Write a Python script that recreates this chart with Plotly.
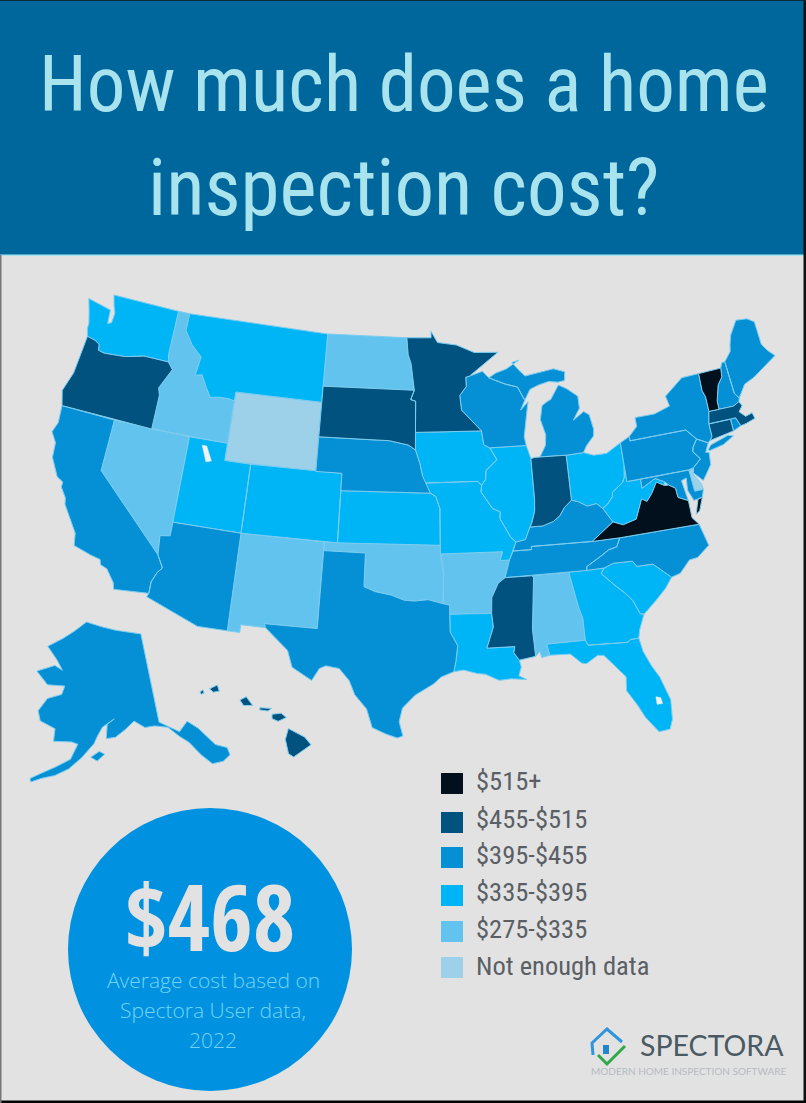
import math
import plotly.graph_objects as go

W, H = 806, 1103

# price tiers, cheapest first
tier_labels = ["Not enough data", "$275-$335", "$335-$395", "$395-$455", "$455-$515", "$515+"]
tier_colors = ["#9dd1ea", "#62c3ee", "#00b5f6", "#0590d5", "#02527f", "#02101e"]

states = ["AK", "AL", "AR", "AZ", "CA", "CO", "CT", "DE", "FL", "GA", "HI", "IA", "ID", "IL", "IN", "KS", "KY",
          "LA", "MA", "MD", "ME", "MI", "MN", "MO", "MS", "MT", "NC", "ND", "NE", "NH", "NJ", "NM", "NV", "NY",
          "OH", "OK", "OR", "PA", "RI", "SC", "SD", "TN", "TX", "UT", "VA", "VT", "WA", "WI", "WV", "WY"]
state_tiers = [3, 1, 1, 3, 3, 2, 4, 0, 2, 2, 4, 2, 1, 2, 4, 2, 3,
               2, 4, 3, 3, 3, 4, 2, 4, 2, 3, 1, 3, 3, 3, 1, 1, 3,
               2, 1, 4, 3, 3, 2, 4, 3, 3, 2, 5, 5, 2, 3, 2, 0]

# the plotly basemap comes from a cdn, so the state outlines (lon, lat) live here
outlines = {
    "WA": [[(-124.73,48.38),(-123.1,48.15),(-122.7,48.1),(-122.6,47.3),(-122.3,47.4),(-122.25,48.0),(-122.5,48.4),(-122.76,49),(-117.03,49),(-117.04,46.42),(-116.92,45.99),(-118.98,46),(-119.3,45.93),(-120.5,45.7),(-121.2,45.65),(-122.2,45.58),(-122.7,45.65),(-122.8,46),(-123.2,46.15),(-123.9,46.25),(-124.1,46.7),(-124.1,47),(-124.4,47.7)]],
    "OR": [[(-123.9,46.25),(-123.2,46.15),(-122.8,46),(-122.7,45.65),(-122.2,45.58),(-121.2,45.65),(-120.5,45.7),(-119.3,45.93),(-118.98,46),(-116.92,45.99),(-116.46,45.6),(-116.85,45),(-117.22,44.4),(-117.03,44),(-117.03,42),(-124.21,42),(-124.55,42.84),(-124.1,44),(-123.95,45.5)]],
    "CA": [[(-124.21,42),(-120,42),(-120,39),(-114.63,35),(-114.14,34.3),(-114.43,34),(-114.72,33.4),(-114.72,32.72),(-117.12,32.53),(-117.25,32.9),(-117.9,33.6),(-118.4,33.75),(-118.5,34.03),(-119.2,34.15),(-120.5,34.45),(-120.65,35.15),(-121.9,36.6),(-122,36.96),(-122.5,37.5),(-122.5,37.8),(-123,38),(-123.75,39),(-123.85,39.85),(-124.35,40.4),(-124.1,41)]],
    "NV": [[(-120,42),(-114.04,42),(-114.04,36.2),(-114.75,36.1),(-114.63,35),(-120,39)]],
    "ID": [[(-117.03,42),(-111.05,42),(-111.05,44.48),(-111.5,44.55),(-112.3,44.55),(-113,44.45),(-113.45,44.95),(-114,45.65),(-114.55,45.55),(-114.35,46.65),(-115.3,47.25),(-116.05,48),(-116.05,49),(-117.03,49),(-117.04,46.42),(-116.92,45.99),(-116.46,45.6),(-116.85,45),(-117.22,44.4),(-117.03,44)]],
    "MT": [[(-116.05,49),(-104.05,49),(-104.05,45),(-111.05,45),(-111.05,44.48),(-111.5,44.55),(-112.3,44.55),(-113,44.45),(-113.45,44.95),(-114,45.65),(-114.55,45.55),(-114.35,46.65),(-115.3,47.25),(-116.05,48)]],
    "WY": [[(-111.05,45),(-104.05,45),(-104.05,41),(-111.05,41)]],
    "UT": [[(-114.04,42),(-111.05,42),(-111.05,41),(-109.05,41),(-109.05,37),(-114.04,37)]],
    "AZ": [[(-114.04,37),(-109.05,37),(-109.05,31.33),(-111.07,31.33),(-114.81,32.5),(-114.72,32.72),(-114.72,33.4),(-114.43,34),(-114.14,34.3),(-114.63,35),(-114.75,36.1),(-114.04,36.2)]],
    "CO": [[(-109.05,41),(-102.05,41),(-102.05,37),(-109.05,37)]],
    "NM": [[(-109.05,37),(-103,37),(-103.04,32),(-106.62,32),(-106.53,31.78),(-108.21,31.78),(-108.21,31.33),(-109.05,31.33)]],
    "ND": [[(-104.05,49),(-97.23,49),(-97.1,48),(-96.85,47.5),(-96.56,45.94),(-104.05,45.94)]],
    "SD": [[(-104.05,45.94),(-96.56,45.94),(-96.85,45.4),(-96.45,45.3),(-96.45,43.5),(-96.45,42.49),(-97,42.77),(-98.5,43),(-104.05,43)]],
    "NE": [[(-104.05,43),(-98.5,43),(-97,42.77),(-96.45,42.49),(-96.1,41.7),(-95.9,41),(-95.31,40),(-102.05,40),(-102.05,41),(-104.05,41)]],
    "KS": [[(-102.05,40),(-95.31,40),(-94.9,39.8),(-94.61,39.1),(-94.62,37),(-102.05,37)]],
    "OK": [[(-103,37),(-94.62,37),(-94.43,35.4),(-94.48,33.64),(-95.5,33.88),(-96.5,33.8),(-97.2,33.85),(-98.1,34.13),(-99.2,34.3),(-100,34.56),(-100,36.5),(-103,36.5)]],
    "TX": [[(-106.62,32),(-103.04,32),(-103,36.5),(-100,36.5),(-100,34.56),(-99.2,34.3),(-98.1,34.13),(-97.2,33.85),(-96.5,33.8),(-95.5,33.88),(-94.48,33.64),(-94.04,33.55),(-94.04,32),(-93.55,31.2),(-93.7,30.3),(-93.85,29.7),(-94.7,29.4),(-95.2,29),(-96.4,28.35),(-97.2,27.6),(-97.4,26.8),(-97.15,25.97),(-97.5,25.85),(-98.2,26.06),(-99.1,26.42),(-99.5,27.5),(-100.3,28.3),(-100.7,29.1),(-101.4,29.77),(-102.3,29.88),(-102.7,29.7),(-103.15,28.98),(-104.5,29.65),(-104.9,30.6),(-106.53,31.78)]],
    "MN": [[(-97.23,49),(-95.15,49),(-95.15,49.38),(-94.6,48.72),(-93,48.55),(-91.5,48.07),(-89.5,48),(-92,46.7),(-92.3,46.65),(-92.3,46.1),(-92.85,45.6),(-92.75,44.75),(-91.22,43.5),(-96.45,43.5),(-96.45,45.3),(-96.85,45.4),(-96.56,45.94),(-96.85,47.5),(-97.1,48)]],
    "IA": [[(-96.45,43.5),(-91.22,43.5),(-91.1,42.7),(-90.65,42.5),(-90.15,41.8),(-91.05,41.2),(-91.1,40.7),(-91.42,40.38),(-91.73,40.61),(-95.77,40.58),(-95.9,41),(-96.1,41.7),(-96.45,42.49)]],
    "MO": [[(-95.77,40.58),(-91.73,40.61),(-91.42,40.38),(-91.5,40),(-90.7,39),(-90.15,38.8),(-90.2,38.4),(-89.5,37.3),(-89.15,37),(-89.4,36.5),(-89.7,36),(-90.37,36),(-90.15,36.5),(-94.62,36.5),(-94.62,37),(-94.61,39.1),(-94.9,39.8),(-95.31,40)]],
    "AR": [[(-94.62,36.5),(-90.15,36.5),(-90.37,36),(-89.7,36),(-90.1,35),(-90.6,34.7),(-91.1,33.9),(-91.17,33),(-94.04,33.02),(-94.04,33.55),(-94.48,33.64),(-94.43,35.4)]],
    "LA": [[(-94.04,33.02),(-91.17,33),(-91.1,32.2),(-91.6,31),(-89.73,31),(-89.83,30.65),(-89.5,30.2),(-89.4,29.8),(-89.6,29.3),(-89.1,29.05),(-90.1,29.15),(-90.9,29.1),(-91.8,29.5),(-92.3,29.55),(-93.2,29.78),(-93.85,29.7),(-93.7,30.3),(-93.55,31.2),(-94.04,32)]],
    "WI": [[(-92,46.7),(-90.9,46.95),(-90.4,46.55),(-89.1,46.13),(-88.1,45.9),(-87.8,45.35),(-87.6,45.1),(-88,44.55),(-87.35,45),(-87.55,44.3),(-87.8,43.4),(-87.9,43),(-87.8,42.49),(-90.65,42.5),(-91.1,42.7),(-91.22,43.5),(-92.75,44.75),(-92.85,45.6),(-92.3,46.1),(-92.3,46.65)]],
    "IL": [[(-90.65,42.5),(-87.8,42.49),(-87.53,41.72),(-87.53,39.35),(-87.6,38.7),(-87.9,38),(-88.05,37.8),(-88.45,37.1),(-89.15,37),(-89.5,37.3),(-90.2,38.4),(-90.15,38.8),(-90.7,39),(-91.5,40),(-91.42,40.38),(-91.1,40.7),(-91.05,41.2),(-90.15,41.8)]],
    "IN": [[(-87.53,41.72),(-87.2,41.76),(-86.82,41.76),(-84.8,41.7),(-84.81,39.1),(-85.4,38.72),(-85.8,38.28),(-86.3,38),(-87.1,37.8),(-88.05,37.8),(-87.9,38),(-87.6,38.7),(-87.53,39.35)]],
    "MI": [[(-86.82,41.76),(-84.8,41.7),(-83.45,41.73),(-83.15,42.1),(-82.5,42.6),(-82.42,43),(-82.6,43.85),(-83,44.07),(-83.9,43.65),(-83.3,44.3),(-83.3,45),(-84.1,45.5),(-84.75,45.78),(-85.1,45.4),(-85.5,45),(-85.8,44.9),(-86.25,44.7),(-86.5,43.9),(-86.2,43),(-86.3,42.4)],
           [(-90.4,46.55),(-89.1,46.13),(-88.1,45.9),(-87.8,45.35),(-87.6,45.1),(-87.1,45.7),(-86.4,45.9),(-85.5,46.05),(-84.75,45.95),(-84.2,46),(-84.1,46.5),(-85,46.75),(-86,46.65),(-87.4,46.5),(-87.9,46.9),(-88.4,47.35),(-87.8,47.45),(-88.9,47),(-89.8,46.8)]],
    "OH": [[(-84.8,41.7),(-83.45,41.73),(-82.7,41.5),(-81.7,41.5),(-80.52,41.98),(-80.52,40.64),(-80.65,40),(-80.85,39.7),(-81.7,39.25),(-81.75,39),(-82.2,38.6),(-82.6,38.4),(-83,38.72),(-83.7,38.65),(-84.3,38.95),(-84.81,39.1)]],
    "KY": [[(-88.45,37.1),(-88.05,37.8),(-87.1,37.8),(-86.3,38),(-85.8,38.28),(-85.4,38.72),(-84.81,39.1),(-84.3,38.95),(-83.7,38.65),(-83,38.72),(-82.6,38.4),(-82,37.55),(-83.68,36.6),(-88.07,36.68),(-88.07,36.5),(-89.4,36.5),(-89.15,37)]],
    "TN": [[(-89.4,36.5),(-88.07,36.5),(-88.07,36.68),(-83.68,36.6),(-81.68,36.59),(-82,36.1),(-82.6,36),(-83.1,35.75),(-84.3,35.2),(-84.32,34.99),(-90.1,35),(-89.7,36)]],
    "MS": [[(-90.1,35),(-88.2,35),(-88.1,34.9),(-88.47,31.9),(-88.4,30.35),(-89.5,30.2),(-89.83,30.65),(-89.73,31),(-91.6,31),(-91.1,32.2),(-91.17,33),(-91.1,33.9),(-90.6,34.7)]],
    "AL": [[(-88.2,35),(-85.6,35),(-85.18,32.87),(-85,32.3),(-85,31),(-87.6,31),(-87.45,30.35),(-88,30.25),(-88.1,30.6),(-88.4,30.35),(-88.47,31.9),(-88.1,34.9)]],
    "GA": [[(-85.6,35),(-83.1,35),(-83.35,34.7),(-82.6,34),(-81.9,33.4),(-81.45,32.9),(-81.1,32.1),(-80.85,32.03),(-81.3,31.2),(-81.45,30.72),(-82.05,30.7),(-82.2,30.57),(-84.86,30.7),(-85,31),(-85,32.3),(-85.18,32.87)]],
    "FL": [[(-87.6,31),(-85,31),(-84.86,30.7),(-82.2,30.57),(-82.05,30.7),(-81.45,30.72),(-81.3,29.9),(-80.9,29),(-80.5,28.3),(-80.05,26.9),(-80.15,25.75),(-80.4,25.2),(-81.1,25.15),(-81.8,26.1),(-82.2,26.9),(-82.75,27.8),(-82.65,28.6),(-83.1,29.1),(-83.9,30),(-84.3,30.05),(-85.1,29.65),(-85.4,29.7),(-86.1,30.3),(-87.45,30.35)]],
    "SC": [[(-83.35,34.7),(-83.1,35),(-82.4,35.2),(-81.05,35.15),(-80.8,34.82),(-79.67,34.8),(-78.55,33.87),(-79.1,33.3),(-79.9,32.7),(-80.85,32.03),(-81.1,32.1),(-81.45,32.9),(-81.9,33.4),(-82.6,34)]],
    "NC": [[(-84.32,34.99),(-83.1,35),(-82.4,35.2),(-81.05,35.15),(-80.8,34.82),(-79.67,34.8),(-78.55,33.87),(-77.9,34),(-77.1,34.65),(-76.5,34.7),(-75.55,35.25),(-75.9,36.55),(-81.68,36.59),(-82,36.1),(-82.6,36),(-83.1,35.75),(-84.3,35.2)]],
    "VA": [[(-83.68,36.6),(-81.68,36.59),(-75.9,36.55),(-76.3,37),(-76.3,37.6),(-76.3,38),(-77,38.3),(-77.05,38.85),(-77.5,39.1),(-77.83,39.13),(-78.35,39.4),(-78.85,38.8),(-79.3,38.4),(-79.65,38.6),(-80.3,37.5),(-81.3,37.3),(-82,37.55)],
           [(-75.95,37.15),(-75.6,37.95),(-75.25,38.03),(-75.65,37.3)]],
    "WV": [[(-82.6,38.4),(-82.2,38.6),(-81.75,39),(-81.7,39.25),(-80.85,39.7),(-80.65,40),(-80.52,40.64),(-80.52,39.72),(-79.48,39.72),(-79.48,39.2),(-78.4,39.62),(-77.72,39.32),(-77.83,39.13),(-78.35,39.4),(-78.85,38.8),(-79.3,38.4),(-79.65,38.6),(-80.3,37.5),(-81.3,37.3),(-82,37.55)]],
    "MD": [[(-79.48,39.72),(-75.79,39.72),(-75.7,38.46),(-75.05,38.45),(-75.25,38.03),(-75.9,37.95),(-76.2,38.6),(-76.1,39.3),(-76.5,39.2),(-76.4,38.4),(-76.3,38),(-77,38.3),(-77.05,38.85),(-77.5,39.1),(-77.72,39.32),(-78.4,39.62),(-79.48,39.2)]],
    "DE": [[(-75.79,39.72),(-75.4,39.8),(-75.55,39.45),(-75.1,38.8),(-75.05,38.45),(-75.7,38.46)]],
    "PA": [[(-80.52,41.98),(-79.76,42.25),(-79.76,42),(-75.35,42),(-74.7,41.36),(-75.1,40.95),(-75.2,40.7),(-74.75,40.2),(-75.4,39.8),(-75.79,39.72),(-80.52,39.72),(-80.52,40.64)]],
    "NJ": [[(-74.7,41.36),(-73.9,41),(-74.25,40.5),(-74,40.45),(-74.1,39.75),(-74.9,38.95),(-75.5,39.5),(-75.4,39.8),(-74.75,40.2),(-75.2,40.7),(-75.1,40.95)]],
    "NY": [[(-79.76,42.25),(-79.76,42),(-75.35,42),(-74.7,41.36),(-73.9,41),(-73.73,41.1),(-73.5,41.3),(-73.5,42.05),(-73.27,42.75),(-73.25,43.6),(-73.4,44),(-73.35,45.01),(-74.75,45),(-76.35,44.15),(-76.2,43.55),(-77.5,43.27),(-79.05,43.27),(-79.05,42.75)],
           [(-74.03,40.6),(-73.75,40.85),(-72.3,41.15),(-71.9,41.05),(-72.8,40.7),(-73.9,40.55)]],
    "CT": [[(-73.5,42.05),(-71.8,42.02),(-71.8,41.32),(-73,41.2),(-73.73,41.1),(-73.5,41.3)]],
    "RI": [[(-71.8,42.02),(-71.38,42.02),(-71.15,41.5),(-71.8,41.32)]],
    "MA": [[(-73.5,42.05),(-73.27,42.75),(-72.46,42.73),(-71.3,42.7),(-70.8,42.87),(-70.65,42.6),(-71,42.3),(-70.6,41.95),(-70.05,42.05),(-69.95,41.7),(-70.7,41.55),(-71.15,41.5),(-71.38,42.02),(-71.8,42.02)]],
    "VT": [[(-73.35,45.01),(-71.5,45.01),(-71.6,44.5),(-72.05,44.1),(-72.45,43.2),(-72.46,42.73),(-73.27,42.75),(-73.25,43.6),(-73.4,44)]],
    "NH": [[(-71.5,45.01),(-71.3,45.3),(-71.05,45.3),(-70.98,43.4),(-70.7,43.07),(-70.8,42.87),(-71.3,42.7),(-72.46,42.73),(-72.45,43.2),(-72.05,44.1),(-71.6,44.5)]],
    "ME": [[(-71.05,45.3),(-70.4,45.8),(-70.25,46.2),(-70,46.7),(-69.23,47.46),(-68.3,47.36),(-67.79,47.07),(-67.79,45.7),(-67.45,45.25),(-67,44.85),(-68.5,44.25),(-69.1,44),(-70,43.75),(-70.7,43.07),(-70.98,43.4)]],
    # picture has no aleutians, the tail stops at the end of the peninsula
    "AK": [[(-141,69.65),(-141,60.3),(-137.5,58.9),(-135.5,59.75),(-133.8,58.7),(-131.8,56.6),(-130,55.9),(-130,55.1),(-131.5,54.7),(-133.4,54.8),(-134.8,56),(-136.3,57.6),(-137.7,58.4),(-139.5,59.6),(-142,60),(-144,60),(-146,60.8),(-148,60),(-150,59.3),(-151.8,59.2),(-151.5,60.7),(-150,61.2),(-152.5,60.4),(-153.5,59.5),(-154.2,58.7),(-156.5,57.2),(-158.7,56),(-161,55.2),(-163.2,54.75),(-165,54.2),(-165.2,54.55),(-163.6,55.2),(-161,56.1),(-158.5,57),(-157.3,58.6),(-158.5,58.8),(-162,58.7),(-162,60),(-165.2,60.6),(-166,61.6),(-164.5,63),(-161.5,63.6),(-161,64.5),(-165,64.4),(-168.1,65.6),(-164,66.5),(-162,66.1),(-163.7,67.1),(-166.7,68.35),(-163,69.4),(-160,70.3),(-156.6,71.35),(-152,70.85),(-148,70.4),(-144,70)],
           [(-154.8,57.3),(-153.2,57.9),(-152.2,57.6),(-153.6,56.9)]],
    "HI": [[(-155.9,20.25),(-155.1,19.85),(-154.8,19.5),(-155.65,18.95),(-155.9,19.1),(-156.05,19.75)],
           [(-156.7,20.9),(-156.25,20.95),(-156,20.75),(-156.4,20.58),(-156.7,20.7)],
           [(-157.3,21.2),(-156.72,21.17),(-156.9,21.05),(-157.3,21.1)],
           [(-158.28,21.55),(-157.97,21.7),(-157.65,21.3),(-158.1,21.3)],
           [(-159.78,22.05),(-159.4,22.23),(-159.3,21.95),(-159.6,21.9)],
           [(-160.25,21.9),(-160.1,22),(-160.05,21.85),(-160.2,21.8)]],
}

# great salt lake and okeechobee show up as pale holes
lakes = [[(-112.95,41.65),(-112.6,41.65),(-112.05,40.85),(-112.45,40.75)],
         [(-80.95,27.2),(-80.65,27.1),(-80.6,26.75),(-80.95,26.75)]]


def albers(lon, lat, lon0, lat0, p1, p2):
    # plain albers equal area, same one the lower 48 map uses
    p1, p2 = math.radians(p1), math.radians(p2)
    n = (math.sin(p1) + math.sin(p2)) / 2
    c = math.cos(p1) ** 2 + 2 * n * math.sin(p1)
    rho = math.sqrt(c - 2 * n * math.sin(math.radians(lat))) / n
    rho0 = math.sqrt(c - 2 * n * math.sin(math.radians(lat0))) / n
    theta = n * math.radians(lon - lon0)
    return rho * math.sin(theta), rho0 - rho * math.cos(theta)


def fit(codes, box, params):
    # squeeze one group of states into its pixel box, returns code -> rings in pixels
    raw = {c: [[albers(lon, lat, *params) for lon, lat in r] for r in outlines[c]] for c in codes}
    xs = [p[0] for rings in raw.values() for r in rings for p in r]
    ys = [p[1] for rings in raw.values() for r in rings for p in r]
    x0, x1, y0, y1 = box
    sx = (x1 - x0) / (max(xs) - min(xs))
    sy = (y1 - y0) / (max(ys) - min(ys))

    def to_px(p):
        return x0 + (p[0] - min(xs)) * sx, y1 - (p[1] - min(ys)) * sy

    return {c: [[to_px(p) for p in r] for r in rings] for c, rings in raw.items()}, to_px


lower48 = [s for s in states if s not in ("AK", "HI")]
main_params = (-96, 37.5, 29.5, 45.5)
placed, main_px = fit(lower48, (52, 775, 295, 738), main_params)
placed.update(fit(["AK"], (30, 230, 622, 782), (-154, 50, 55, 65))[0])
placed.update(fit(["HI"], (200, 311, 685, 757), (-157, 20, 8, 18))[0])

fig = go.Figure()

# one trace per tier, rings split with None so each state fills by itself
for tier, color in enumerate(tier_colors):
    xs, ys = [], []
    for code, t in zip(states, state_tiers):
        if t != tier:
            continue
        for ring in placed[code]:
            xs += [p[0] for p in ring] + [ring[0][0], None]
            ys += [p[1] for p in ring] + [ring[0][1], None]
    fig.add_trace(go.Scatter(x=xs, y=ys, mode="lines", fill="toself", fillcolor=color,
                             line=dict(color="#7ccdf0", width=1), name=tier_labels[tier], hoverinfo="name"))

for lake in lakes:
    lake_px = [main_px(albers(lon, lat, *main_params)) for lon, lat in lake]
    fig.add_trace(go.Scatter(x=[p[0] for p in lake_px] + [lake_px[0][0]], y=[p[1] for p in lake_px] + [lake_px[0][1]],
                             mode="lines", fill="toself", fillcolor="#eef3f5", line=dict(color="#eef3f5", width=0.5),
                             hoverinfo="skip"))


def px(x):
    return x / W


def py(y):
    return 1 - y / H


shapes = [
    dict(type="rect", x0=0, x1=1, y0=py(255), y1=1, fillcolor="#00679c", line_width=0, layer="below"),
    dict(type="rect", x0=0, x1=1, y0=py(256), y1=py(254.5), fillcolor="#a9e3ee", line_width=0),
    dict(type="circle", x0=px(68), x1=px(352), y0=py(1091), y1=py(808), fillcolor="#0092e0", line_width=0),
    # dark edges of the scan
    dict(type="rect", x0=px(803.5), x1=1, y0=0, y1=1, fillcolor="#101010", line_width=0),
    dict(type="rect", x0=0, x1=1, y0=0, y1=py(1100.5), fillcolor="#050505", line_width=0),
    dict(type="rect", x0=0, x1=1, y0=py(1), y1=1, fillcolor="#0b2a3c", line_width=0),
    dict(type="rect", x0=0, x1=px(1.5), y0=0, y1=py(255), fillcolor="#777777", line_width=0),
    # logo
    dict(type="path", line=dict(color="#2f95dc", width=3),
         path=f"M{px(593)},{py(1055)} L{px(592)},{py(1043)} L{px(607)},{py(1029)} L{px(622)},{py(1042)}"),
    dict(type="rect", x0=px(603), x1=px(609), y0=py(1054), y1=py(1045), fillcolor="#1f86cf", line_width=0),
    dict(type="path", line=dict(color="#2fa84a", width=3),
         path=f"M{px(598)},{py(1055)} L{px(607)},{py(1064)} L{px(625)},{py(1046)}"),
]

annotations = []


def add_text(x, y, text, size, color, family, anchor="center", weight=None):
    annotations.append(dict(x=px(x), y=py(y), xref="paper", yref="paper", text=text, showarrow=False,
                            xanchor=anchor, yanchor="middle",
                            font=dict(size=size, color=color, family=family, weight=weight)))


NARROW = "Roboto Condensed"
add_text(404, 85, "How much does a home", 77, "#a9e3ee", NARROW)
add_text(404, 188, "inspection cost?", 79, "#a9e3ee", NARROW)
add_text(210, 915, "$468", 92, "#e2e2e2", "Open Sans Condensed", weight=700)
add_text(213, 980, "Average cost based on", 21, "#74d2f6", "Open Sans", weight=300)
add_text(213, 1010, "Spectora User data,", 21, "#74d2f6", "Open Sans", weight=300)
add_text(213, 1040, "2022", 21, "#74d2f6", "Open Sans", weight=300)
add_text(638, 1045, "SPECTORA", 28.5, "#4a5a63", "Lato", anchor="left")
add_text(589, 1071, "MODERN HOME INSPECTION SOFTWARE", 10, "#b4bbbf", "Lato", anchor="left")

# legend is listed dearest first in the picture
legend_top = [773, 812, 847, 885, 921, 957]
legend_mid = [780, 818, 854, 891, 928, 965]
for top, mid, label, color in zip(legend_top, legend_mid, tier_labels[::-1], tier_colors[::-1]):
    shapes.append(dict(type="rect", x0=px(441), x1=px(463), y0=py(top + 21), y1=py(top),
                       fillcolor=color, line_width=0))
    add_text(474, mid, label, 26.5, "#5a5f66", NARROW, anchor="left")

for s in shapes:
    s.setdefault("xref", "paper")
    s.setdefault("yref", "paper")

fig.update_layout(
    width=W, height=H, margin=dict(l=0, r=0, t=0, b=0),
    paper_bgcolor="#e2e2e2", plot_bgcolor="#e2e2e2", showlegend=False,
    xaxis=dict(range=[0, W], visible=False, fixedrange=True),
    yaxis=dict(range=[H, 0], visible=False, fixedrange=True),
    shapes=shapes, annotations=annotations,
)

fig.write_html("out.html", config={"displayModeBar": False}, post_script="document.body.style.margin='0';")
